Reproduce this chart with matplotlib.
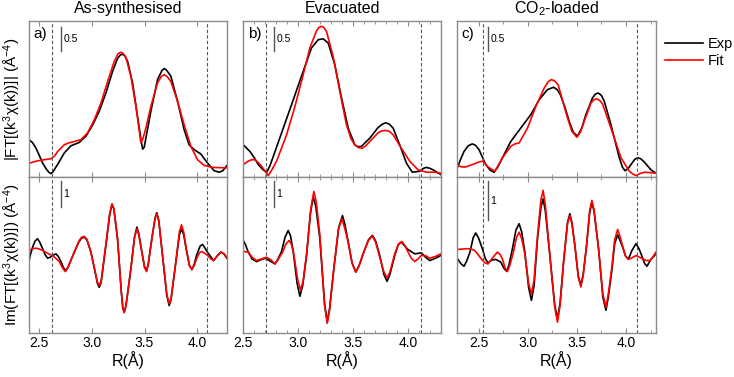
import matplotlib.pyplot as plt
from matplotlib.transforms import blended_transform_factory
from matplotlib.ticker import MultipleLocator

plt.rcParams['font.family'] = ['Liberation Sans', 'DejaVu Sans']
plt.rcParams['mathtext.fontset'] = 'custom'
plt.rcParams['mathtext.rm'] = 'Liberation Sans'
plt.rcParams['mathtext.it'] = 'Liberation Sans:italic'

titles = ['As-synthesised', 'Evacuated', 'CO$_2$-loaded']
panel_tags = ['a)', 'b)', 'c)']

# curves as (R in Angstrom, value) pairs
# ---- a) As-synthesised ----
a_mag_exp = [(2.404, 0.78), (2.44, 0.72), (2.474, 0.60), (2.505, 0.45), (2.537, 0.29), (2.57, 0.17),
             (2.595, 0.10), (2.615, 0.07), (2.635, 0.11), (2.678, 0.26), (2.741, 0.50), (2.804, 0.65),
             (2.883, 0.72), (2.946, 0.85), (3.009, 1.08), (3.072, 1.37), (3.135, 1.75), (3.198, 2.20),
             (3.245, 2.47), (3.27, 2.54), (3.292, 2.56), (3.315, 2.52), (3.340, 2.41), (3.387, 1.96),
             (3.434, 1.26), (3.465, 0.80), (3.482, 0.58), (3.497, 0.62), (3.513, 0.81), (3.560, 1.37),
             (3.623, 2.03), (3.665, 2.22), (3.686, 2.26), (3.71, 2.22), (3.749, 2.10), (3.812, 1.58),
             (3.874, 0.99), (3.922, 0.67), (3.969, 0.57), (4.032, 0.48), (4.096, 0.29), (4.159, 0.13),
             (4.206, 0.10), (4.24, 0.13), (4.279, 0.24)]
a_mag_fit = [(2.404, 0.28), (2.474, 0.33), (2.552, 0.36), (2.615, 0.38), (2.65, 0.44), (2.678, 0.53),
             (2.741, 0.67), (2.78, 0.71), (2.820, 0.73), (2.899, 0.78), (2.962, 0.92), (3.025, 1.19),
             (3.088, 1.54), (3.151, 1.99), (3.214, 2.41), (3.25, 2.57), (3.277, 2.60), (3.30, 2.57),
             (3.324, 2.49), (3.371, 2.10), (3.419, 1.47), (3.445, 1.05), (3.466, 0.71), (3.485, 0.80),
             (3.513, 1.02), (3.560, 1.47), (3.623, 1.96), (3.66, 2.10), (3.686, 2.13), (3.715, 2.09),
             (3.749, 1.99), (3.812, 1.58), (3.874, 1.09), (3.938, 0.64), (4.001, 0.36), (4.064, 0.24),
             (4.143, 0.20), (4.279, 0.19)]
a_im_exp = [(2.404, -0.34), (2.42, 0.0), (2.442, 0.31), (2.465, 0.55), (2.489, 0.64), (2.51, 0.50),
            (2.537, 0.25), (2.56, 0.02), (2.584, -0.12), (2.61, -0.08), (2.631, -0.01), (2.663, 0.05),
            (2.685, -0.05), (2.710, -0.25), (2.735, -0.50), (2.757, -0.60), (2.78, -0.45), (2.836, 0.12),
            (2.88, 0.52), (2.905, 0.66), (2.930, 0.70), (2.955, 0.60), (2.993, 0.12), (3.03, -0.60),
            (3.055, -1.10), (3.072, -1.25), (3.09, -1.05), (3.135, 0.38), (3.17, 1.55), (3.192, 1.97),
            (3.21, 1.80), (3.245, 0.64), (3.28, -1.40), (3.295, -2.05), (3.308, -2.22), (3.325, -1.95),
            (3.371, -0.53), (3.405, 0.70), (3.428, 1.09), (3.445, 0.85), (3.475, 0.12), (3.50, -0.45),
            (3.519, -0.60), (3.535, -0.35), (3.569, 0.64), (3.60, 1.45), (3.616, 1.65), (3.635, 1.35),
            (3.670, -0.01), (3.71, -1.55), (3.733, -1.96), (3.75, -1.75), (3.796, -0.27), (3.83, 0.80),
            (3.850, 1.02), (3.87, 0.80), (3.897, 0.18), (3.925, -0.40), (3.948, -0.56), (3.97, -0.35),
            (3.992, -0.01), (4.025, 0.35), (4.049, 0.42), (4.075, 0.25), (4.106, 0.05), (4.153, -0.21),
            (4.19, -0.02), (4.222, 0.12), (4.25, 0.05), (4.279, -0.12)]
a_im_fit = [(2.404, 0.18), (2.44, 0.25), (2.474, 0.27), (2.505, 0.24), (2.537, 0.18), (2.575, 0.09),
            (2.615, 0.01), (2.655, -0.10), (2.694, -0.25), (2.725, -0.50), (2.751, -0.64), (2.775, -0.48),
            (2.836, 0.12), (2.88, 0.55), (2.905, 0.70), (2.930, 0.73), (2.955, 0.62), (2.993, 0.12),
            (3.03, -0.58), (3.055, -1.05), (3.072, -1.18), (3.09, -1.00), (3.135, 0.44), (3.17, 1.60),
            (3.192, 2.00), (3.21, 1.82), (3.245, 0.64), (3.28, -1.40), (3.295, -2.06), (3.308, -2.24),
            (3.325, -1.97), (3.371, -0.53), (3.405, 0.68), (3.428, 1.02), (3.445, 0.80), (3.475, 0.12),
            (3.50, -0.48), (3.519, -0.64), (3.535, -0.38), (3.569, 0.64), (3.60, 1.42), (3.616, 1.61),
            (3.635, 1.32), (3.670, -0.01), (3.71, -1.50), (3.733, -1.89), (3.75, -1.70), (3.796, -0.27),
            (3.83, 0.92), (3.850, 1.18), (3.87, 0.90), (3.897, 0.18), (3.925, -0.42), (3.948, -0.56),
            (3.97, -0.40), (3.992, -0.14), (4.02, 0.10), (4.042, 0.14), (4.07, 0.07), (4.096, -0.01),
            (4.125, -0.14), (4.153, -0.21), (4.19, -0.02), (4.222, 0.12), (4.25, 0.06), (4.279, -0.08)]

# ---- b) Evacuated ----
b_mag_exp = [(2.500, 0.67), (2.561, 0.53), (2.60, 0.40), (2.636, 0.26), (2.68, 0.15), (2.712, 0.10),
             (2.74, 0.22), (2.773, 0.43), (2.864, 1.02), (2.955, 1.61), (3.045, 2.20), (3.121, 2.69),
             (3.182, 2.86), (3.227, 2.88), (3.273, 2.79), (3.333, 2.34), (3.394, 1.65), (3.455, 1.02),
             (3.515, 0.67), (3.545, 0.63), (3.576, 0.64), (3.652, 0.81), (3.727, 1.03), (3.765, 1.10),
             (3.797, 1.13), (3.83, 1.10), (3.864, 1.02), (3.924, 0.67), (3.985, 0.29), (4.039, 0.10),
             (4.106, 0.12), (4.14, 0.18), (4.167, 0.20), (4.20, 0.18), (4.227, 0.15), (4.300, 0.05)]
b_mag_fit = [(2.500, 0.26), (2.545, 0.33), (2.575, 0.36), (2.606, 0.36), (2.637, 0.30), (2.667, 0.22),
             (2.727, 0.03), (2.76, 0.15), (2.803, 0.33), (2.894, 0.88), (2.970, 1.47), (3.045, 2.13),
             (3.106, 2.69), (3.167, 3.05), (3.19, 3.12), (3.212, 3.14), (3.235, 3.11), (3.258, 3.03),
             (3.318, 2.51), (3.379, 1.78), (3.439, 1.09), (3.48, 0.80), (3.515, 0.67), (3.55, 0.61),
             (3.582, 0.60), (3.615, 0.65), (3.652, 0.74), (3.727, 0.92), (3.76, 0.96), (3.797, 0.97),
             (3.83, 0.95), (3.864, 0.88), (3.939, 0.60), (4.015, 0.33), (4.091, 0.15), (4.167, 0.10),
             (4.242, 0.10), (4.300, 0.08)]
b_im_exp = [(2.500, 0.57), (2.52, 0.40), (2.545, 0.12), (2.58, -0.15), (2.621, -0.25), (2.66, -0.18),
            (2.697, -0.12), (2.736, -0.21), (2.788, -0.34), (2.81, -0.20), (2.848, 0.14), (2.88, 0.70),
            (2.909, 0.96), (2.93, 0.75), (2.955, 0.12), (2.99, -1.10), (3.015, -1.60), (3.04, -1.20),
            (3.076, -0.01), (3.11, 1.60), (3.136, 2.26), (3.16, 1.90), (3.197, 0.64), (3.24, -1.90),
            (3.264, -2.58), (3.285, -2.10), (3.324, -0.53), (3.37, 1.10), (3.403, 1.54), (3.425, 1.20),
            (3.455, 0.51), (3.49, -0.30), (3.524, -0.66), (3.555, -0.40), (3.597, 0.12), (3.64, 0.60),
            (3.676, 0.77), (3.705, 0.55), (3.742, -0.01), (3.78, -0.75), (3.809, -1.02), (3.835, -0.75),
            (3.879, -0.01), (3.91, 0.40), (3.939, 0.51), (3.965, 0.38), (4.000, 0.22), (4.061, 0.05),
            (4.121, 0.09), (4.16, -0.08), (4.197, -0.21), (4.25, -0.12), (4.300, -0.01)]
b_im_fit = [(2.500, 0.14), (2.545, 0.12), (2.58, -0.08), (2.621, -0.21), (2.67, -0.14), (2.712, -0.08),
            (2.75, -0.18), (2.788, -0.34), (2.81, -0.22), (2.858, 0.12), (2.89, 0.45), (2.918, 0.57),
            (2.94, 0.40), (2.961, -0.01), (2.995, -0.95), (3.021, -1.37), (3.045, -1.00), (3.076, 0.05),
            (3.115, 1.80), (3.142, 2.48), (3.165, 2.05), (3.197, 0.77), (3.24, -1.95), (3.264, -2.65),
            (3.285, -2.15), (3.324, -0.53), (3.365, 1.00), (3.397, 1.41), (3.42, 1.10), (3.455, 0.51),
            (3.49, -0.30), (3.524, -0.66), (3.555, -0.40), (3.597, 0.12), (3.64, 0.58), (3.676, 0.74),
            (3.705, 0.50), (3.742, -0.08), (3.78, -0.65), (3.809, -0.89), (3.835, -0.65), (3.879, 0.05),
            (3.915, 0.45), (3.945, 0.53), (3.97, 0.38), (4.000, 0.12), (4.03, -0.12), (4.061, -0.25),
            (4.09, -0.15), (4.121, -0.01), (4.16, -0.02), (4.197, -0.12), (4.25, -0.05), (4.300, 0.05)]

# ---- c) CO2-loaded ----
c_mag_exp = [(2.290, 0.22), (2.32, 0.38), (2.352, 0.53), (2.395, 0.65), (2.437, 0.69), (2.47, 0.66),
             (2.505, 0.57), (2.573, 0.26), (2.62, 0.14), (2.658, 0.10), (2.70, 0.22), (2.743, 0.40),
             (2.828, 0.74), (2.930, 1.02), (3.032, 1.30), (3.117, 1.61), (3.201, 1.82), (3.263, 1.87),
             (3.30, 1.82), (3.331, 1.72), (3.38, 1.45), (3.422, 1.16), (3.465, 0.93), (3.507, 0.85),
             (3.55, 1.02), (3.592, 1.30), (3.660, 1.65), (3.69, 1.73), (3.718, 1.75), (3.75, 1.70),
             (3.779, 1.58), (3.847, 1.09), (3.932, 0.40), (3.965, 0.20), (3.990, 0.13), (4.02, 0.17),
             (4.051, 0.26), (4.09, 0.37), (4.119, 0.40), (4.15, 0.38), (4.187, 0.31), (4.254, 0.15),
             (4.305, 0.08)]
c_mag_fit = [(2.290, 0.24), (2.33, 0.21), (2.369, 0.21), (2.454, 0.27), (2.50, 0.31), (2.539, 0.33),
             (2.565, 0.29), (2.590, 0.22), (2.665, 0.12), (2.70, 0.24), (2.743, 0.40), (2.828, 0.64),
             (2.87, 0.69), (2.913, 0.71), (2.998, 1.02), (3.083, 1.47), (3.167, 1.85), (3.21, 1.99),
             (3.242, 2.03), (3.275, 2.00), (3.310, 1.92), (3.405, 1.23), (3.45, 0.95), (3.500, 0.83),
             (3.535, 0.93), (3.575, 1.16), (3.643, 1.54), (3.675, 1.61), (3.704, 1.63), (3.735, 1.59),
             (3.762, 1.52), (3.847, 1.02), (3.949, 0.40), (4.034, 0.12), (4.07, 0.06), (4.102, 0.03),
             (4.14, 0.07), (4.187, 0.10), (4.305, 0.08)]
c_im_exp = [(2.291, -0.11), (2.32, -0.22), (2.352, -0.29), (2.38, -0.15), (2.413, 0.08), (2.445, 0.45),
            (2.471, 0.58), (2.50, 0.45), (2.539, 0.17), (2.57, -0.10), (2.597, -0.20), (2.635, -0.13),
            (2.675, -0.11), (2.726, -0.18), (2.76, -0.35), (2.787, -0.42), (2.81, -0.25), (2.845, 0.17),
            (2.88, 0.65), (2.913, 0.82), (2.94, 0.60), (2.971, 0.08), (3.01, -0.85), (3.038, -1.18),
            (3.065, -0.80), (3.100, 0.43), (3.135, 1.25), (3.157, 1.47), (3.18, 1.15), (3.229, -0.10),
            (3.275, -1.30), (3.303, -1.66), (3.33, -1.25), (3.365, -0.18), (3.405, 0.85), (3.429, 1.08),
            (3.45, 0.85), (3.480, 0.25), (3.515, -0.55), (3.541, -0.79), (3.565, -0.50), (3.599, 0.25),
            (3.63, 1.10), (3.653, 1.38), (3.675, 1.15), (3.721, 0.17), (3.765, -1.10), (3.796, -1.44),
            (3.82, -1.10), (3.854, -0.44), (3.885, 0.30), (3.915, 0.53), (3.94, 0.38), (3.966, 0.21),
            (3.995, -0.02), (4.024, -0.11), (4.06, 0.12), (4.102, 0.30), (4.13, 0.18), (4.160, -0.01),
            (4.19, -0.22), (4.214, -0.29), (4.25, -0.12), (4.305, 0.03)]
c_im_fit = [(2.291, 0.15), (2.34, 0.16), (2.386, 0.17), (2.425, 0.16), (2.461, 0.12), (2.50, 0.00),
            (2.529, -0.10), (2.565, -0.20), (2.597, -0.23), (2.64, -0.08), (2.692, 0.08), (2.72, 0.02),
            (2.743, -0.10), (2.77, -0.33), (2.794, -0.43), (2.82, -0.25), (2.855, 0.08), (2.885, 0.45),
            (2.913, 0.60), (2.94, 0.42), (2.971, 0.03), (3.01, -0.75), (3.038, -1.01), (3.065, -0.65),
            (3.100, 0.51), (3.135, 1.45), (3.157, 1.69), (3.18, 1.30), (3.229, -0.10), (3.275, -1.35),
            (3.303, -1.75), (3.33, -1.30), (3.365, -0.18), (3.405, 0.82), (3.429, 1.03), (3.45, 0.82),
            (3.480, 0.25), (3.515, -0.58), (3.541, -0.83), (3.565, -0.52), (3.599, 0.25), (3.63, 1.15),
            (3.653, 1.43), (3.675, 1.18), (3.721, 0.17), (3.765, -1.02), (3.796, -1.36), (3.82, -1.02),
            (3.854, -0.36), (3.885, 0.40), (3.915, 0.67), (3.94, 0.48), (3.966, 0.23), (3.995, -0.02),
            (4.024, -0.11), (4.06, -0.07), (4.102, -0.01), (4.135, -0.05), (4.170, -0.10), (4.21, -0.14),
            (4.248, -0.14), (4.28, -0.02), (4.305, 0.08)]

# fit window (dashed lines) and R ranges
fit_windows = [(2.63, 4.09), (2.71, 4.12), (2.55, 4.11)]
r_limits = [(2.405, 4.28), (2.5, 4.30), (2.284, 4.305)]
im_limits = [3.04, 3.04, 2.04]
mag_top = 3.24

panels = [
    (a_mag_exp, a_mag_fit, a_im_exp, a_im_fit),
    (b_mag_exp, b_mag_fit, b_im_exp, b_im_fit),
    (c_mag_exp, c_mag_fit, c_im_exp, c_im_fit),
]

lefts = [0.0391, 0.3315, 0.6230]
widths = [0.2702, 0.2693, 0.2707]
bar_x = [0.163, 0.155, 0.156]
minor_steps = [None, 0.1, 0.25]
spine_col = '#8c8c8c'

fig = plt.figure(figsize=(7.34, 3.77), dpi=100)


def draw(ax, pts, col):
    r, v = zip(*pts)
    return ax.plot(r, v, color=col, lw=1.2)[0]


def scale_bar(ax, xf, yf, length, label):
    tr = blended_transform_factory(ax.transAxes, ax.transData)
    y0, y1 = ax.get_ylim()
    ytop = y0 + yf * (y1 - y0)
    ax.plot([xf, xf], [ytop, ytop - length], transform=tr, color='#555555', lw=1.0)
    ax.text(xf + 0.012, ytop - length / 2, label, transform=tr, fontsize=7.5,
            ha='left', va='center')


for i, (mag_e, mag_f, im_e, im_f) in enumerate(panels):
    ax_t = fig.add_axes([lefts[i], 0.5305, widths[i], 0.4125])
    ax_b = fig.add_axes([lefts[i], 0.1159, widths[i], 0.4146])

    l1 = draw(ax_t, mag_e, 'black')
    l2 = draw(ax_t, mag_f, 'red')
    draw(ax_b, im_e, 'black')
    draw(ax_b, im_f, 'red')

    ax_t.set_ylim(0, mag_top)
    ax_b.set_ylim(-im_limits[i], im_limits[i])

    for ax in (ax_t, ax_b):
        ax.set_xlim(*r_limits[i])
        for x in fit_windows[i]:
            ax.axvline(x, color='#555555', lw=0.8, ls=(0, (3, 2)))
        ax.set_yticks([])
        for s in ax.spines.values():
            s.set_color(spine_col)
            s.set_linewidth(1.0)
        ax.xaxis.set_major_locator(MultipleLocator(0.5))
        if minor_steps[i]:
            ax.xaxis.set_minor_locator(MultipleLocator(minor_steps[i]))
        ax.tick_params(axis='x', which='both', direction='in', top=True, color=spine_col,
                       labelsize=10, pad=2)
        ax.tick_params(axis='x', which='major', length=3.5)
        ax.tick_params(axis='x', which='minor', length=2)

    ax_t.tick_params(axis='x', labelbottom=False)
    ax_b.set_xlabel('R(Å)', fontsize=11.5, labelpad=1)
    ax_t.set_title(titles[i], fontsize=11.5, pad=6)
    ax_t.text(0.022, 0.965, panel_tags[i], transform=ax_t.transAxes, fontsize=11,
              ha='left', va='top')

    scale_bar(ax_t, bar_x[i], 0.963, 0.5, '0.5')
    scale_bar(ax_b, bar_x[i], 0.972, 1.0, '1')

    if i == 0:
        ax_t.set_ylabel('|FT[(k$^3$χ(k))]| (Å$^{-4}$)', fontsize=11, labelpad=4)
        ax_b.set_ylabel('Im(FT[(k$^3$χ(k))]) (Å$^{-4}$)', fontsize=11, labelpad=4)

fig.legend([l1, l2], ['Exp', 'Fit'], loc='upper left', bbox_to_anchor=(0.898, 0.918),
           frameon=False, fontsize=10.5, handlelength=2.6, handletextpad=0.35,
           labelspacing=0.25, borderaxespad=0)

fig.savefig('out.png', dpi=100)
